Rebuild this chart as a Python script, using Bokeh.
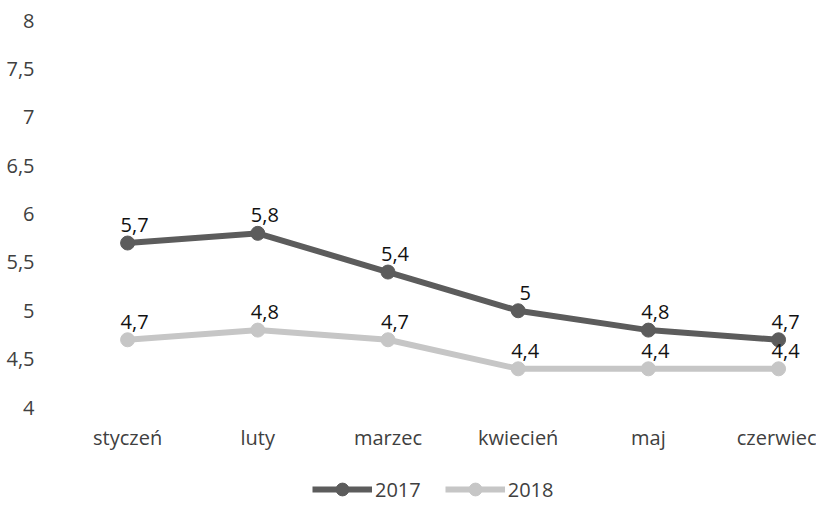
from bokeh.plotting import figure
from bokeh.layouts import column
from bokeh.models import Range1d, FixedTicker, Legend, LegendItem, ColumnDataSource, LabelSet
from bokeh.core.properties import value
from bokeh.embed import file_html
from bokeh.resources import INLINE

months = ["styczeń", "luty", "marzec", "kwiecień", "maj", "czerwiec"]
s2017 = [5.7, 5.8, 5.4, 5.0, 4.8, 4.7]
s2018 = [4.7, 4.8, 4.7, 4.4, 4.4, 4.4]
y_ticks = [4, 4.5, 5, 5.5, 6, 6.5, 7, 7.5, 8]
y_tick_labels = ["4", "4,5", "5", "5,5", "6", "6,5", "7", "7,5", "8"]
series_names = ["2017", "2018"]

FONT = "Open Sans"
FS = "20px"
C17 = "#5c5c5c"
C18 = "#c6c6c6"

xs = list(range(len(months)))
def fmt(v):
    return f"{v:g}".replace(".", ",")

src17 = ColumnDataSource(dict(x=xs, y=s2017, t=[fmt(v) for v in s2017]))
src18 = ColumnDataSource(dict(x=xs, y=s2018, t=[fmt(v) for v in s2018]))

p = figure(width=816, height=455, output_backend="svg", toolbar_location=None,
           x_range=Range1d(-0.5, 5.276), y_range=Range1d(4, 8),
           min_border_left=62, min_border_right=2, min_border_top=20, min_border_bottom=48)
p.outline_line_color = None
p.grid.visible = False

for ax in (p.xaxis[0], p.yaxis[0]):
    ax.axis_line_color = None
    ax.major_tick_line_color = None
    ax.minor_tick_line_color = None
    ax.major_label_text_font = FONT
    ax.major_label_text_font_size = FS
    ax.major_label_text_color = "#404040"

p.xaxis.ticker = FixedTicker(ticks=xs)
p.xaxis.major_label_overrides = {i: m for i, m in enumerate(months)}
p.xaxis.major_label_standoff = 10
p.yaxis.ticker = FixedTicker(ticks=y_ticks)
p.yaxis.major_label_overrides = {t: l for t, l in zip(y_ticks, y_tick_labels)}
p.yaxis.major_label_standoff = 22

p.line("x", "y", source=src18, line_color=C18, line_width=6)
p.scatter("x", "y", source=src18, size=14, fill_color=C18, line_color=C18)
p.line("x", "y", source=src17, line_color=C17, line_width=6)
p.scatter("x", "y", source=src17, size=14, fill_color=C17, line_color=C17)

for src in (src17, src18):
    p.add_layout(LabelSet(x="x", y="y", text="t", source=src, x_offset=7, y_offset=18,
                          text_align="center", text_baseline="middle",
                          text_font=value(FONT), text_font_size=value(FS),
                          text_color="#111111"))

# legend strip below the chart (series drawn off-range so only legend glyphs show)
lf = figure(width=816, height=50, output_backend="svg", toolbar_location=None,
            x_range=Range1d(0, 1), y_range=Range1d(0, 1),
            min_border_left=0, min_border_right=0, min_border_top=0, min_border_bottom=0)
lf.axis.visible = False
lf.grid.visible = False
lf.outline_line_color = None
items = []
for name, col, src in zip(series_names, [C17, C18], [src17, src18]):
    r1 = lf.line("x", "y", source=src, line_color=col, line_width=6)
    r2 = lf.scatter("x", "y", source=src, size=14, fill_color=col, line_color=col)
    items.append(LegendItem(label=name, renderers=[r1, r2]))

legend = Legend(items=items, location=(250, 0), orientation="horizontal",
                glyph_width=60, glyph_height=32, label_standoff=3, spacing=24,
                padding=0, margin=0, border_line_color=None, background_fill_alpha=0,
                label_text_font=FONT, label_text_font_size=FS, label_text_color="#404040")
lf.add_layout(legend, "center")

open("out.html", "w").write(file_html(column(p, lf), INLINE))
